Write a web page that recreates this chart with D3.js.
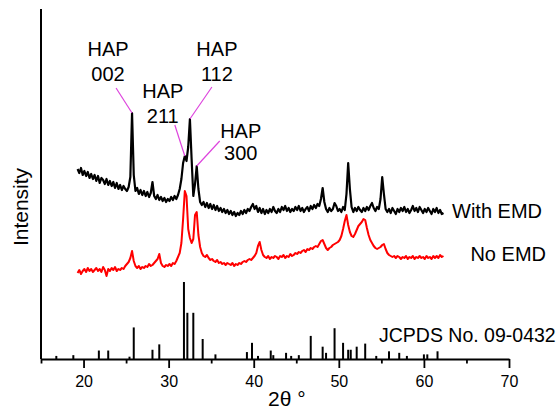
<!DOCTYPE html>
<html>
<head>
<meta charset="utf-8">
<script src="https://cdn.jsdelivr.net/npm/d3@7"></script>
<style>
  body { margin: 0; background: #fff; }
  text { font-family: "Liberation Sans", Arial, sans-serif; fill: #000; }
</style>
</head>
<body>
<div id="chart"></div>
<script>
// 2-theta grid for the measured patterns (start, step)
var theta0 = 19.3, thetaStep = 0.2;

// With EMD (black), intensity in arbitrary units, one value per 0.2 deg
var withEMD = [
  190, 186, 191, 184, 188, 183, 187, 181, 185, 180,
  184, 178, 183, 176, 181, 179, 175, 180, 174, 178,
  173, 177, 171, 176, 170, 174, 169, 173, 170, 168,
  172, 182, 246, 184, 168, 171, 165, 169, 164, 168,
  163, 167, 162, 166, 177, 163, 160, 164, 159, 162,
  158, 161, 157, 160, 158, 162, 159, 163, 160, 164,
  170, 180, 196, 203, 198, 212, 240, 200, 163, 175,
  193, 170, 157, 154, 157, 152, 156, 151, 155, 150,
  154, 149, 153, 148, 151, 147, 150, 146, 149, 145,
  148, 144, 147, 143, 146, 144, 148, 145, 149, 146,
  150, 148, 152, 155, 150, 153, 147, 151, 146, 150,
  145, 149, 146, 150, 147, 152, 148, 146, 150, 147,
  152, 149, 153, 148, 151, 147, 150, 148, 152, 149,
  153, 148, 151, 147, 150, 152, 148, 153, 150, 154,
  151, 155, 153, 160, 171, 157, 150, 147, 151, 148,
  150, 156, 153, 148, 150, 147, 152, 149, 165, 196,
  170, 152, 147, 151, 148, 152, 149, 147, 151, 148,
  152, 149, 153, 156, 151, 148, 152, 150, 160, 182,
  165, 150, 147, 150, 146, 151, 148, 145, 150, 147,
  151, 148, 152, 147, 150, 146, 149, 153, 148, 151,
  147, 152, 149, 146, 150, 147, 151, 148, 145, 150,
  147, 151, 146, 149, 145, 146
];

// No EMD (red)
var noEMD = [
   86,  89,  85,  88,  90,  87,  91,  88,  90,  87,
   89,  91,  88,  90,  87,  92,  89,  83,  90,  88,
   91,  89,  92,  88,  90,  89,  91,  90,  93,  95,
   97, 101, 108,  98,  93,  91,  93,  90,  92,  91,
   93,  92,  95,  93,  94,  96,  98, 100, 105,  96,
   93,  92,  94,  93,  95,  93,  96,  95,  98, 102,
  106, 116, 140, 168, 163, 130, 121, 116, 120, 144,
  147, 124, 112, 106, 103, 102, 104, 101,  99, 100,
   98,  97,  99,  96,  97,  95,  96,  94,  96,  95,
   94,  96,  93,  95,  94,  96,  95,  97,  98,  97,
   99, 100,  99, 101, 103, 106, 113, 117, 109, 104,
  102, 101, 103, 100, 102, 101, 103, 102, 100, 103,
  102, 104, 101, 103, 102, 105, 103, 104, 106, 105,
  107, 106, 108, 109, 107, 110, 109, 111, 110, 112,
  113, 112, 115, 118, 119, 115, 111, 109, 111, 112,
  114, 115, 116, 117, 119, 123, 130, 138, 144, 134,
  127, 123, 122, 125, 129, 133, 135, 137, 140, 139,
  131, 124, 119, 116, 113, 111, 110, 111, 112, 114,
  115, 110, 106, 104, 103, 102, 103, 101, 103, 102,
  100, 102, 101, 103, 100, 102, 101, 103, 100, 102,
  101, 103, 101, 102, 100, 103, 101, 102, 100, 103,
  101, 103, 101, 104, 102, 103
];

// JCPDS No. 09-0432 reference lines (2theta, relative intensity %)
var refTheta = [16.8, 18.8, 21.8, 22.9, 25.4, 25.9, 28.1, 28.9, 31.8, 32.2,
                32.9, 34.0, 35.5, 39.2, 39.8, 40.5, 42.0, 42.3, 43.8, 44.4,
                45.3, 46.7, 48.1, 48.5, 49.5, 50.5, 51.1, 51.4, 52.1, 53.1,
                54.4, 55.9, 57.1, 58.0, 60.0, 60.4, 61.6];
var refInt   = [4, 5, 11, 11, 3, 41, 12, 19, 100, 60,
                60, 26, 6, 9, 21, 4, 11, 5, 8, 4,
                5, 30, 16, 8, 40, 21, 12, 12, 16, 20,
                4, 10, 8, 4, 6, 6, 10];

// peak labels
var peakHkl   = ["002", "211", "112", "300"];
var peakTheta = [25.7, 31.9, 32.5, 33.3];

var majorTicks = [20, 30, 40, 50, 60, 70];
var minorTicks = [15, 25, 35, 45, 55, 65];

var margin = {top: 9, right: 48, bottom: 60, left: 41},
    width = 557 - margin.left - margin.right,
    height = 419 - margin.top - margin.bottom;

var svg = d3.select("#chart")
    .append("svg")
    .attr("width", 557)
    .attr("height", 419)
    .append("g")
    .attr("transform", "translate(" + margin.left + "," + margin.top + ")");

var x = d3.scaleLinear().domain([15, 70]).range([0, width]);
var y = d3.scaleLinear().domain([0, 350]).range([height, 0]);
var yRef = d3.scaleLinear().domain([0, 100]).range([height, height - 77]);

function thetaAt(i) { return theta0 + i * thetaStep; }

// reference sticks
svg.selectAll(".stick")
    .data(refTheta)
    .enter()
    .append("line")
    .attr("class", "stick")
    .attr("x1", function(d) { return x(d); })
    .attr("x2", function(d) { return x(d); })
    .attr("y1", y(0))
    .attr("y2", function(d, i) { return yRef(refInt[i]); })
    .attr("stroke", "#000")
    .attr("stroke-width", 2);

// patterns
var line = d3.line()
    .x(function(d, i) { return x(thetaAt(i)); })
    .y(function(d) { return y(d); });

svg.append("path")
    .datum(noEMD)
    .attr("d", line)
    .attr("fill", "none")
    .attr("stroke", "#ff0000")
    .attr("stroke-width", 2)
    .attr("stroke-linejoin", "round");

svg.append("path")
    .datum(withEMD)
    .attr("d", line)
    .attr("fill", "none")
    .attr("stroke", "#000")
    .attr("stroke-width", 2.2)
    .attr("stroke-linejoin", "round");

// axes
var xMinor = svg.append("g")
    .attr("transform", "translate(0," + height + ")")
    .call(d3.axisBottom(x).tickValues(minorTicks).tickSize(4.5).tickFormat(""));
xMinor.select(".domain").remove();

var xAxis = svg.append("g")
    .attr("transform", "translate(0," + height + ")")
    .call(d3.axisBottom(x).tickValues(majorTicks).tickSize(9).tickPadding(8).tickSizeOuter(0));
xAxis.selectAll("text")
    .style("font-size", "16px")
    .style("font-family", "Liberation Sans, Arial, sans-serif");

svg.selectAll(".tick line").attr("stroke-width", 1.8);
xAxis.select(".domain").attr("stroke-width", 2);

svg.append("line")
    .attr("x1", 0).attr("x2", 0)
    .attr("y1", 0).attr("y2", height)
    .attr("stroke", "#000")
    .attr("stroke-width", 2);

// axis titles
svg.append("text")
    .attr("transform", "translate(" + (28 - margin.left) + "," + (207 - margin.top) + ")rotate(-90)")
    .style("text-anchor", "middle")
    .style("font-size", "21px")
    .text("Intensity");

svg.append("text")
    .attr("x", 268 - margin.left)
    .attr("y", 406 - margin.top)
    .style("font-size", "21px")
    .text("2θ °");

// series labels
svg.append("text")
    .attr("x", 452 - margin.left)
    .attr("y", 218 - margin.top)
    .style("font-size", "20px")
    .text("With EMD");

svg.append("text")
    .attr("x", 546 - margin.left)
    .attr("y", 261 - margin.top)
    .style("text-anchor", "end")
    .style("font-size", "20px")
    .text("No EMD");

svg.append("text")
    .attr("x", 379 - margin.left)
    .attr("y", 342 - margin.top)
    .style("font-size", "19.5px")
    .text("JCPDS No. 09-0432");

// peak callouts: line start offset, text centre offset, baselines of the two rows
var callout = [
  {lx: -16, ly: -25, tx: -24, t1: -57, t2: -32},
  {lx: -10, ly: -31, tx: -22, t1: -58, t2: -33},
  {lx:  22, ly: -32, tx:  27, t1: -63, t2: -38},
  {lx:  23, ly: -25, tx:  44, t1: -28, t2: -6}
];

peakTheta.forEach(function(t, i) {
    var k = Math.round((t - theta0) / thetaStep);
    var px = x(t), py = y(withEMD[k]);
    var c = callout[i];
    svg.append("line")
        .attr("x1", px + c.lx).attr("y1", py + c.ly)
        .attr("x2", px).attr("y2", py)
        .attr("stroke", "#dd44dd")
        .attr("stroke-width", 1.2);
    svg.append("text")
        .attr("x", px + c.tx).attr("y", py + c.t1)
        .style("text-anchor", "middle")
        .style("font-size", "20px")
        .text("HAP");
    svg.append("text")
        .attr("x", px + c.tx).attr("y", py + c.t2)
        .style("text-anchor", "middle")
        .style("font-size", "20px")
        .text(peakHkl[i]);
});
</script>
</body>
</html>
